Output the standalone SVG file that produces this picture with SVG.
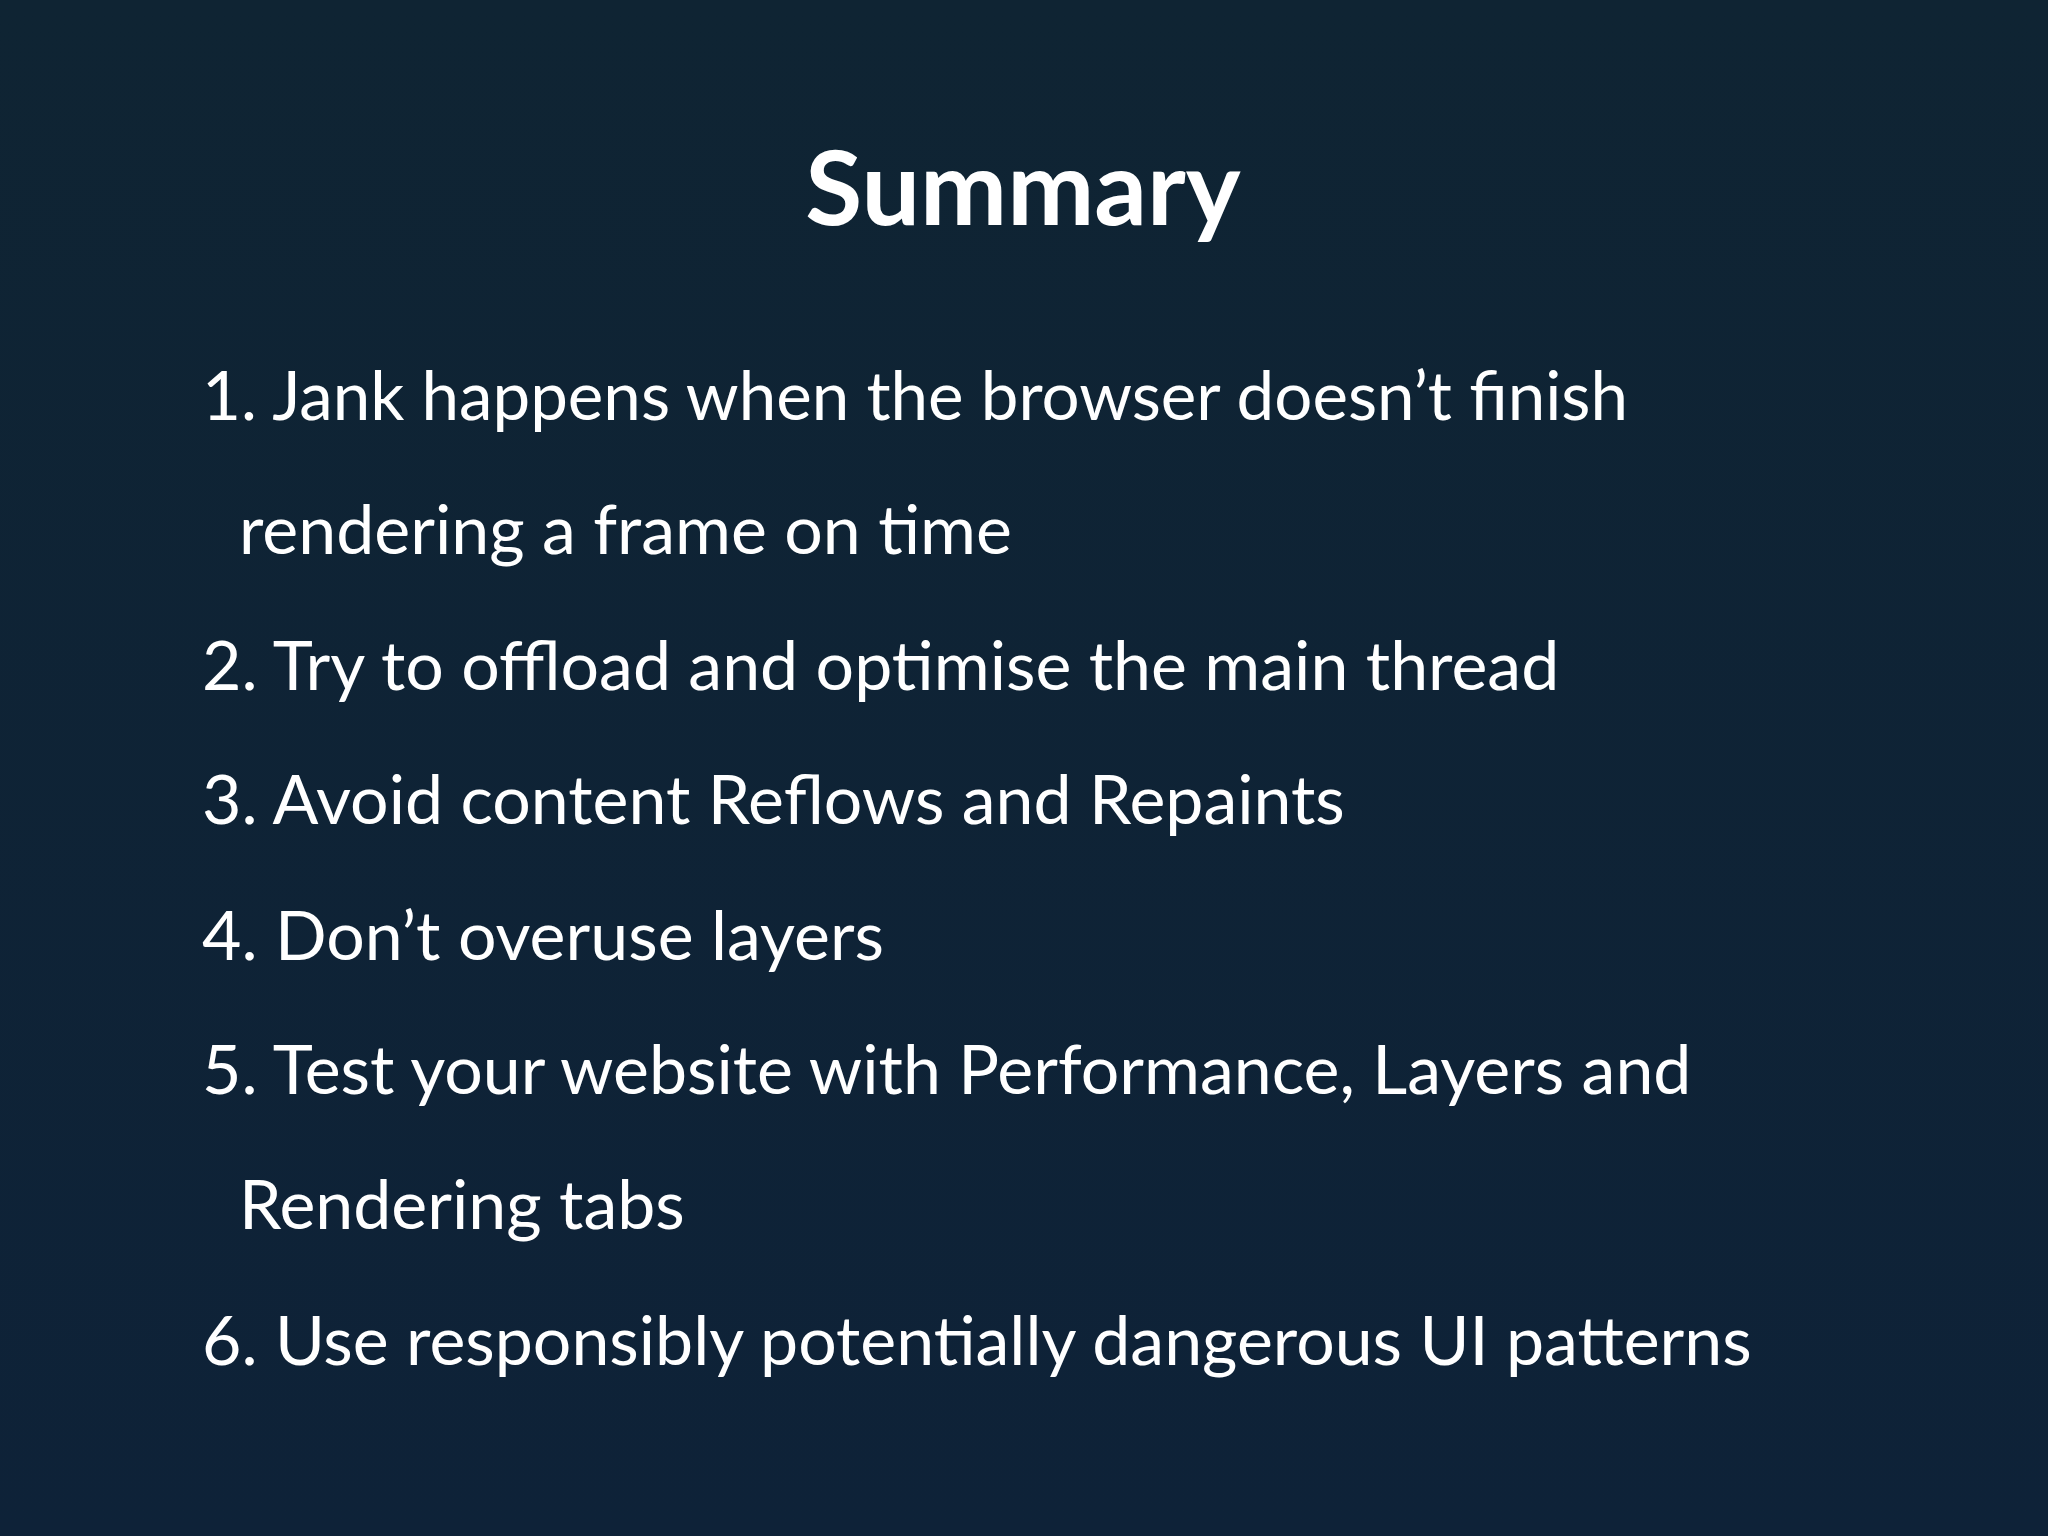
<svg xmlns="http://www.w3.org/2000/svg" width="2048" height="1536" viewBox="0 0 2048 1536">
<style>
.t{font-family:Lato,"Noto Sans",sans-serif;fill:#ffffff}
.h{font-size:104px;font-weight:bold}
.i{font-size:68px}
</style>
<defs><linearGradient id="bg" x1="0" y1="0" x2="0" y2="1"><stop offset="0" stop-color="#0f2433"/><stop offset="1" stop-color="#0e2238"/></linearGradient></defs>
<rect width="2048" height="1536" fill="url(#bg)"/>
<g id="title"><text class="t h" x="1023" y="225" text-anchor="middle">Summary</text></g>
<g id="list">
<text class="t i" x="202" y="420" textLength="1426" lengthAdjust="spacingAndGlyphs">1. Jank happens when the browser doesn’t finish</text>
<text class="t i" x="239" y="554">rendering a frame on time</text>
<text class="t i" x="202" y="690">2. Try to offload and optimise the main thread</text>
<text class="t i" x="202" y="824">3. Avoid content Reflows and Repaints</text>
<text class="t i" x="202" y="960">4. Don’t overuse layers</text>
<text class="t i" x="202" y="1094">5. Test your website with Performance, Layers and</text>
<text class="t i" x="239" y="1229">Rendering tabs</text>
<text class="t i" x="202" y="1365">6. Use responsibly potentially dangerous UI patterns</text>
</g>
</svg>
